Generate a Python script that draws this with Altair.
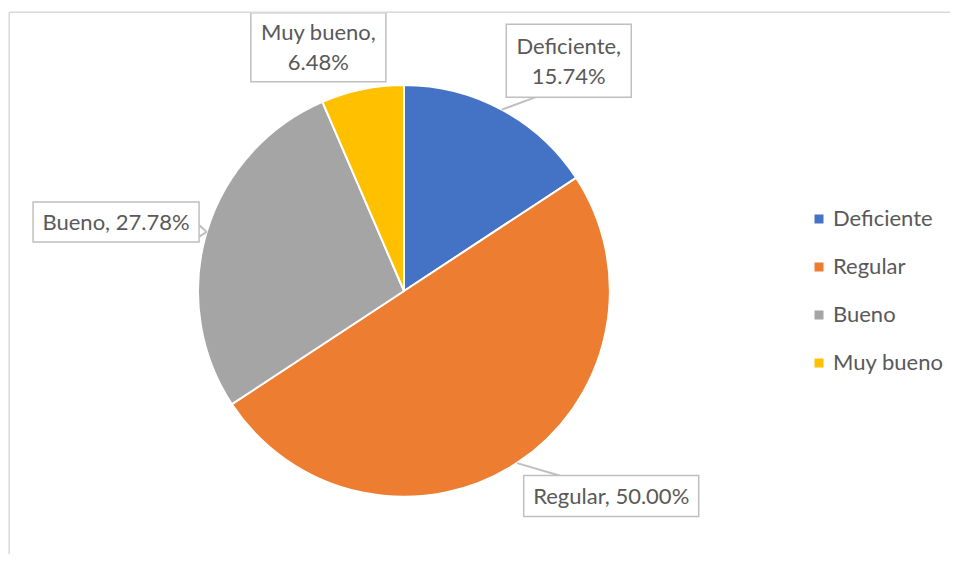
import altair as alt
import pandas as pd

# ---- data ----
categories = ["Deficiente", "Regular", "Bueno", "Muy bueno"]
percentages = [15.74, 50.00, 27.78, 6.48]
colors = ["#4472C4", "#ED7D31", "#A5A5A5", "#FFC000"]

# ---- layout / style ----
W, H = 942, 546
CX, CY, R = 396, 283, 206
FONT = "Lato"
TXT = "#595959"
BOX = "#BFBFBF"
FS = 22

df = pd.DataFrame({"cat": categories, "value": percentages,
                   "ord": list(range(len(categories)))})
base = alt.Chart(df)

xs = alt.Scale(domain=[0, W], range=[0, W])
ys = alt.Scale(domain=[0, H], range=[0, H])

pie = base.mark_arc(radius=R, stroke="white", strokeWidth=2).encode(
    theta=alt.Theta("value:Q", stack=True),
    order=alt.Order("ord:Q"),
    color=alt.Color(
        "cat:N",
        scale=alt.Scale(domain=categories, range=colors),
        legend=alt.Legend(
            title=None, orient="none", legendX=800, legendY=200,
            symbolType="square", symbolSize=81, symbolStrokeWidth=0,
            labelFont=FONT, labelFontSize=FS, labelColor=TXT,
            labelOffset=3, rowPadding=26, padding=0,
        ),
    ),
    x=alt.value(CX),
    y=alt.value(CY),
)

geo = (
    base.transform_joinaggregate(total="sum(value)")
    .transform_window(cum="sum(value)", sort=[alt.SortField("ord")], frame=[None, 0])
    .transform_calculate(mid="(datum.cum - datum.value / 2) / datum.total * 2 * PI")
    .transform_calculate(ex=f"{CX} + {R} * sin(datum.mid)")
    .transform_calculate(ey=f"{CY} - {R} * cos(datum.mid)")
)


def callout(cat, ox, oy, bw, bh, sep, leaders, tdy):
    g = (
        geo.transform_filter(alt.datum.cat == cat)
        .transform_calculate(bx=f"datum.ex + ({ox})")
        .transform_calculate(by=f"datum.ey + ({oy})")
        .transform_calculate(x1=f"datum.bx - {bw / 2}")
        .transform_calculate(x2=f"datum.bx + {bw / 2}")
        .transform_calculate(y1=f"datum.by - {bh / 2}")
        .transform_calculate(y2=f"datum.by + {bh / 2}")
        .transform_calculate(
            txt=f"datum.cat + '{sep}' + format(datum.value, '.2f') + '%'"
        )
    )
    layers = []
    for lx, ly in leaders:
        layers.append(
            g.transform_calculate(lx=f"datum.ex + ({lx})")
            .transform_calculate(ly=f"datum.ey + ({ly})")
            .mark_rule(color=BOX, strokeWidth=2)
            .encode(
                x=alt.X("ex:Q", scale=xs, axis=None),
                y=alt.Y("ey:Q", scale=ys, axis=None),
                x2="lx:Q",
                y2="ly:Q",
            )
        )
    box = g.mark_rect(fill="white", stroke=BOX, strokeWidth=1.5).encode(
        x=alt.X("x1:Q", scale=xs, axis=None),
        x2="x2:Q",
        y=alt.Y("y1:Q", scale=ys, axis=None),
        y2="y2:Q",
    )
    text = g.mark_text(
        font=FONT, fontSize=FS, color=TXT, lineBreak="\n", lineHeight=30,
        align="center", baseline="middle", dy=tdy,
    ).encode(
        x=alt.X("bx:Q", scale=xs, axis=None),
        y=alt.Y("by:Q", scale=ys, axis=None),
        text="txt:N",
    )
    return layers + [box, text]


nl = ",\\n"
layers = [pie]
layers += callout("Deficiente", 67, -49, 125, 73, nl, [(34, -12.6)], -14)
layers += callout("Regular", 94, 33, 175, 41, ", ", [(43, 12.6)], 1)
layers += callout("Bueno", -90.6, -10, 166, 40, ", ", [(-7.6, -7), (-7.6, 5)], 1)
layers += callout("Muy bueno", -44, -42, 135, 69, nl, [], -14)

frame = alt.Chart(pd.DataFrame({"k": [0]}))
top_line = frame.mark_rule(color="#D9D9D9", strokeWidth=1.5).encode(
    x=alt.value(1.2), x2=alt.value(W), y=alt.value(4.3)
)
left_line = frame.mark_rule(color="#D9D9D9", strokeWidth=1.5).encode(
    x=alt.value(1.2), y=alt.value(4.3), y2=alt.value(H)
)
layers += [top_line, left_line]

chart = (
    alt.layer(*layers)
    .properties(width=W, height=H, padding=0,
                autosize=alt.AutoSizeParams(type="none"), background="white")
    .configure_view(stroke=None)
)

chart.save("out.html", embed_options={"renderer": "svg", "actions": False})
